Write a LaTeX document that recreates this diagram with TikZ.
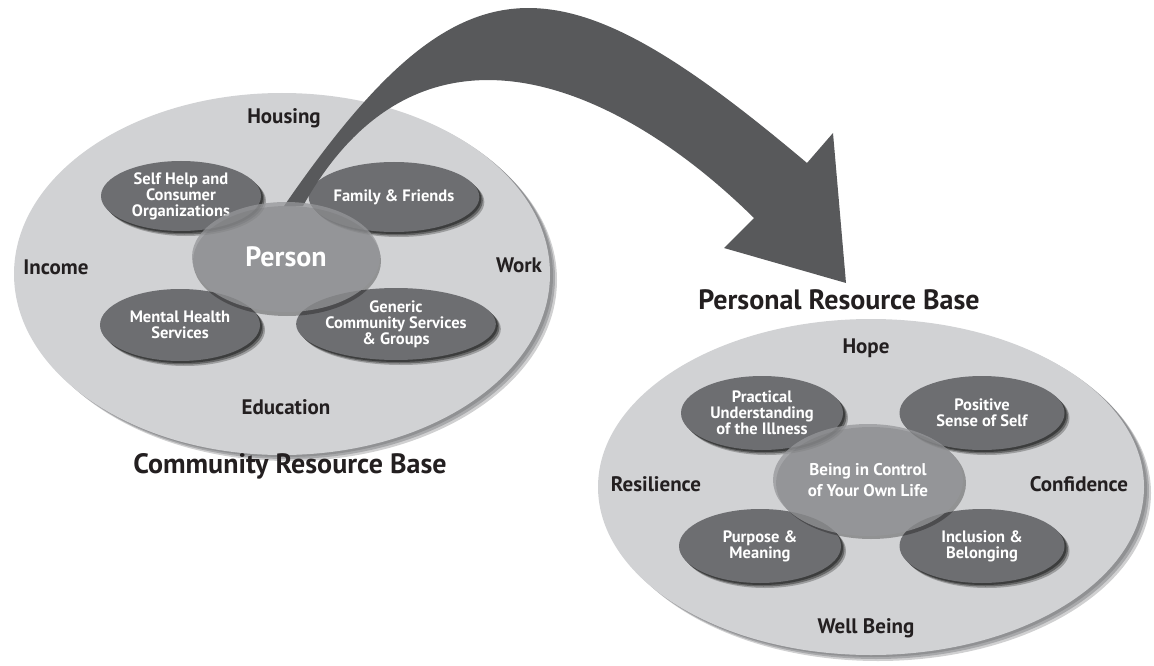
\documentclass[tikz,border=0pt]{standalone}
\usepackage{fontspec}
\setmainfont{PT Sans}
\usetikzlibrary{shapes.geometric,shadows}
\definecolor{basefill}{RGB}{209,210,212}
\definecolor{baserim}{RGB}{120,121,124}
\definecolor{darkfill}{RGB}{109,110,113}
\definecolor{midfill}{RGB}{150,151,154}
\definecolor{arrowfill}{RGB}{88,89,91}
\definecolor{txt}{RGB}{35,31,32}
\tikzset{
  base/.style={ellipse,fill=basefill,inner sep=0pt,
    general shadow={shadow xshift=7pt,shadow yshift=-6pt,fill=baserim,opacity=0.35},
    general shadow={shadow xshift=5pt,shadow yshift=-4pt,fill=baserim,opacity=0.45},
    general shadow={shadow xshift=3pt,shadow yshift=-2pt,fill=baserim,opacity=0.5}},
  subbox/.style={ellipse,fill=darkfill,inner sep=0pt,text=white,align=center,
    font=\bfseries\fontsize{16.5}{16}\selectfont,
    general shadow={shadow xshift=5pt,shadow yshift=-5pt,fill=black,opacity=0.25},
    general shadow={shadow xshift=3.5pt,shadow yshift=-3.5pt,fill=black,opacity=0.35},
    general shadow={shadow xshift=2pt,shadow yshift=-2pt,fill=black,opacity=0.4}},
  corebox/.style={ellipse,fill=midfill,fill opacity=0.75,text opacity=1,inner sep=0pt,
    text=white,align=center},
  coreshadow/.style={ellipse,inner sep=0pt,fill=black,opacity=0.3},
  lab/.style={text=txt,font=\bfseries\fontsize{21}{23}\selectfont},
  title/.style={text=txt,font=\bfseries\fontsize{28}{30}\selectfont}
}
\begin{document}
\begin{tikzpicture}[x=1pt,y=-1pt]
\useasboundingbox (0,0) rectangle (1154,666);
% ---------- left base ----------
\node[base,minimum width=536pt,minimum height=362pt] (lbase) at (282,274) {};
\node[subbox,minimum width=160pt,minimum height=70pt] (selfhelp) at (181,196) {Self Help and\\Consumer\\Organizations};
\node[subbox,minimum width=160pt,minimum height=70pt] (family) at (394,197) {Family \& Friends};
\node[subbox,minimum width=160pt,minimum height=72pt] (mental) at (180,325) {Mental Health\\Services};
\node[subbox,minimum width=164pt,minimum height=72pt] (generic) at (396,324) {Generic\\Community Services\\\& Groups};
% arrow
\coordinate (atail) at (284,206);
\coordinate (atip) at (846,283);
\fill[arrowfill] (atail) .. controls (464,-55) and (559,-46) .. (807,163) -- (833,133) -- (atip) -- (724,248) -- (754,218) .. controls (617,83) and (420,-4) .. (303,206) -- cycle;
% person
\node[coreshadow,minimum width=188pt,minimum height=110pt] (personsh) at (287,261) {};
\node[corebox,minimum width=188pt,minimum height=110pt,font=\bfseries\fontsize{28}{30}\selectfont] (person) at (286,257) {Person};
\node[lab] (housing) at (284,118) {Housing};
\node[lab] (income) at (56,267) {Income};
\node[lab] (work) at (519,265) {Work};
\node[lab] (education) at (286,407) {Education};
\node[title] (crb) at (290,466) {Community Resource Base};
% ---------- right base ----------
\node[title] (prb) at (839,300) {Personal Resource Base};
\node[base,minimum width=546pt,minimum height=336pt] (rbase) at (871,487) {};
\node[subbox,minimum width=162pt,minimum height=74pt] (practical) at (762,413) {Practical\\Understanding\\of the Illness};
\node[subbox,minimum width=165pt,minimum height=74pt] (positive) at (982,413) {Positive\\Sense of Self};
\node[subbox,minimum width=162pt,minimum height=74pt] (purpose) at (760,546) {Purpose \&\\Meaning};
\node[subbox,minimum width=165pt,minimum height=74pt] (inclusion) at (982,546) {Inclusion \&\\Belonging};
\node[coreshadow,minimum width=190pt,minimum height=112pt] (beingsh) at (871,483) {};
\node[corebox,minimum width=190pt,minimum height=112pt,font=\bfseries\fontsize{17}{21}\selectfont] (being) at (868,480) {Being in Control\\of Your Own Life};
\node[lab] (hope) at (866,348) {Hope};
\node[lab] (resilience) at (656,484) {Resilience};
\node[lab] (confidence) at (1079,484) {Confidence};
\node[lab] (wellbeing) at (866,628) {Well Being};
\end{tikzpicture}
\end{document}
